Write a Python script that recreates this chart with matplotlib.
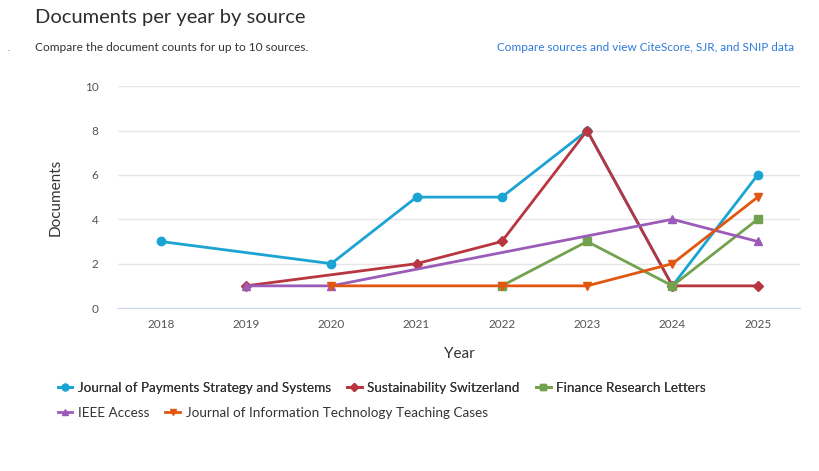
"""
Documents per year by source - line chart
"""
import matplotlib
matplotlib.use('Agg')
import matplotlib.pyplot as plt

plt.rcParams['font.family'] = ['Lato', 'DejaVu Sans']

# data
jpss_years = [2018, 2020, 2021, 2022, 2023, 2024, 2025]
jpss_docs = [3, 2, 5, 5, 8, 1, 6]
sust_years = [2019, 2021, 2022, 2023, 2024, 2025]
sust_docs = [1, 2, 3, 8, 1, 1]
frl_years = [2022, 2023, 2024, 2025]
frl_docs = [1, 3, 1, 4]
ieee_years = [2019, 2020, 2024, 2025]
ieee_docs = [1, 1, 4, 3]
jitt_years = [2020, 2022, 2023, 2024, 2025]
jitt_docs = [1, 1, 1, 2, 5]

series = [
    ('Journal of Payments Strategy and Systems', jpss_years, jpss_docs, '#1ba3d4', 'o'),
    ('Sustainability Switzerland', sust_years, sust_docs, '#b8363f', 'D'),
    ('Finance Research Letters', frl_years, frl_docs, '#73a24e', 's'),
    ('IEEE Access', ieee_years, ieee_docs, '#9b5bb8', '^'),
    ('Journal of Information Technology Teaching Cases', jitt_years, jitt_docs, '#e2570f', 'v'),
]
year_ticks = [2018, 2019, 2020, 2021, 2022, 2023, 2024, 2025]

fig = plt.figure(figsize=(8.2, 4.71), dpi=100)
ax = fig.add_axes([0.144, 0.346, 0.832, 0.471])

handles = []
for name, xs, ys, col, mk in series:
    ms = 5 if mk == 'D' else 6
    h, = ax.plot(xs, ys, color=col, marker=mk, markersize=ms, linewidth=2, label=name)
    handles.append(h)

ax.set_xlim(2017.5, 2025.5)
ax.set_ylim(0, 10)
ax.set_xticks(year_ticks)
ax.set_yticks([0, 2, 4, 6, 8, 10])
ax.tick_params(length=0, labelsize=8.5, colors='#555555', pad=8)
ax.tick_params(axis='y', pad=14)
ax.grid(axis='y', color='#e6e6e6', linewidth=1)
ax.set_axisbelow(True)
for s in ['top', 'right', 'left']:
    ax.spines[s].set_visible(False)
ax.spines['bottom'].set_color('#ccd6eb')

ax.set_xlabel('Year', fontsize=11, color='#333333', labelpad=12)
ax.set_ylabel('Documents', fontsize=11, color='#333333', labelpad=16)

fig.text(0.043, 0.962, 'Documents per year by source', fontsize=14.5, color='#2e2e2e', va='center')
fig.text(0.043, 0.900, 'Compare the document counts for up to 10 sources.', fontsize=8.6,
         color='#333333', va='center')
fig.text(0.969, 0.900, 'Compare sources and view CiteScore, SJR, and SNIP data', fontsize=8.5,
         color='#2e7ad8', va='center', ha='right')
fig.text(0.009, 0.897, '.', fontsize=6, color='#2e5fa8', va='center')

leg_kw = dict(loc='upper left', frameon=False, fontsize=9.7, handlelength=1.1,
              handletextpad=0.4, columnspacing=1.2, borderpad=0, labelcolor='#333333',
              markerscale=0.8)
leg1 = fig.legend(handles=handles[:3], ncol=3, bbox_to_anchor=(0.062, 0.203), **leg_kw)
fig.legend(handles=handles[3:], ncol=2, bbox_to_anchor=(0.062, 0.150), **leg_kw)
fig.add_artist(leg1)

plt.savefig('out.png', dpi=100, facecolor='white')
